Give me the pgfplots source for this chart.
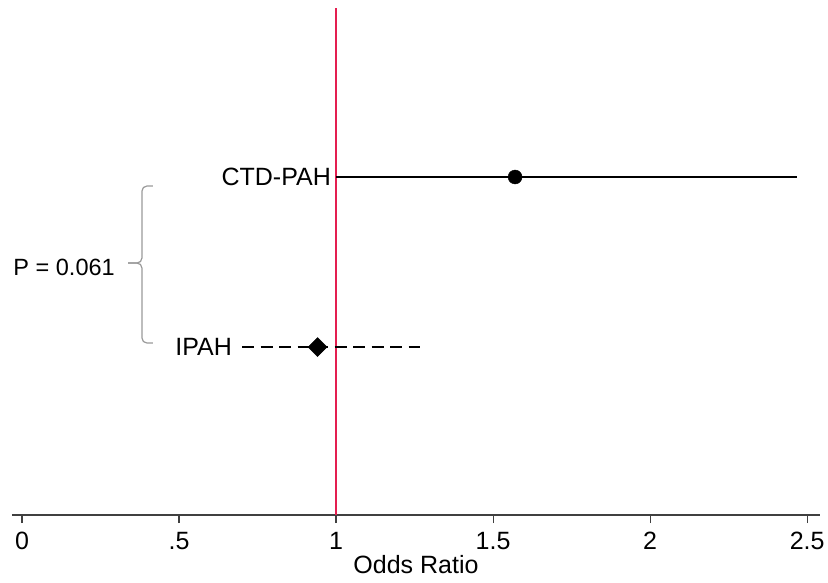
\documentclass[border=0pt]{standalone}
\usepackage{pgfplots}
\pgfplotsset{compat=1.18}
\usepackage{fontspec}
\setmainfont{Liberation Sans}
\definecolor{refline}{RGB}{228,30,80}
\begin{document}
\begin{tikzpicture}
\useasboundingbox (0,0) rectangle (828pt,582pt);
\begin{axis}[
  at={(12pt,67pt)}, anchor=south west,
  scale only axis, width=808pt, height=507pt,
  xmin=-0.0318, xmax=2.541, ymin=0.012, ymax=2.994,
  axis x line=bottom, axis y line=none,
  axis line style={-, line width=1.1pt, color=black!75},
  xtick={0,0.5,1,1.5,2,2.5},
  xticklabels={0,.5,1,1.5,2,2.5},
  tick align=outside, major tick length=8pt,
  tick style={line width=1.1pt, color=black!75},
  /pgf/number format/assume math mode=true,
  ticklabel style={font=\fontsize{25}{29}\selectfont},
  xticklabel style={yshift=-6pt},
  xlabel={Odds Ratio},
  xlabel style={font=\fontsize{25}{29}\selectfont, yshift=2pt},
  clip=false,
]
% reference line
\addplot[refline, line width=2pt] coordinates {(1,0.012) (1,2.994)};
% CTD-PAH CI and estimate
\addplot[black, line width=2pt] coordinates {(1,2) (2.468,2)};
\addplot[only marks, mark=*, mark size=7pt, black] coordinates {(1.570,2)};
% IPAH CI and estimate
\addplot[black, line width=2pt, dash pattern=on 12pt off 6.5pt] coordinates {(0.701,1) (1.268,1)};
\addplot[only marks, mark=square*, mark size=6.7pt, black, mark options={solid, rotate=45}] coordinates {(0.941,1)};
% labels
\node[anchor=east, font=\fontsize{25}{29}\selectfont, inner sep=5pt] at (axis cs:1,2) {CTD-PAH};
\node[anchor=east, font=\fontsize{25}{29}\selectfont, inner sep=0pt, xshift=-10pt] at (axis cs:0.701,1) {IPAH};
% brace
\draw[black!40, line width=1.2pt, rounded corners=5pt]
  (axis cs:0.417,1.947) -- (axis cs:0.382,1.947) -- (axis cs:0.382,1.494) -- (axis cs:0.3376,1.494);
\draw[black!40, line width=1.2pt, rounded corners=5pt]
  (axis cs:0.417,1.0235) -- (axis cs:0.382,1.0235) -- (axis cs:0.382,1.494) -- (axis cs:0.3376,1.494);
\node[anchor=east, font=\fontsize{23.5}{27}\selectfont, inner sep=0pt] at (axis cs:0.296,1.47) {P = 0.061};
\end{axis}
\end{tikzpicture}
\end{document}
